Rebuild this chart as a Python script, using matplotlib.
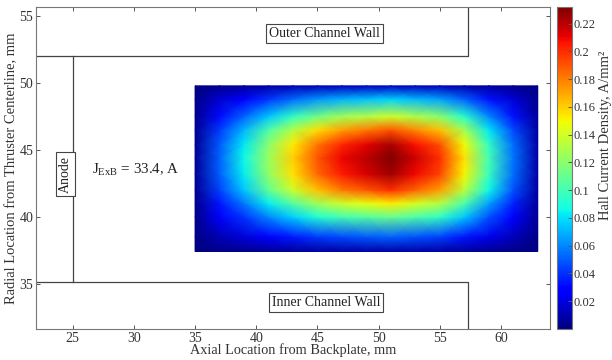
import numpy as np
import matplotlib
matplotlib.use('Agg')
import matplotlib.pyplot as plt

# grid of Hall current density (A/mm^2)
x_mm = [35, 37, 39, 41, 43, 45, 47, 49, 51, 53, 55, 57, 59, 61, 63]
y_mm = [37.4, 38.5, 40.0, 41.0, 42.0, 43.2, 44.4, 45.4, 46.5, 47.5, 48.8, 49.8]
j_hall = [
    [0.000, 0.002, 0.003, 0.005, 0.006, 0.008, 0.008, 0.009, 0.009, 0.009, 0.008, 0.006, 0.004, 0.002, 0.000],
    [0.001, 0.011, 0.019, 0.028, 0.035, 0.042, 0.046, 0.049, 0.051, 0.048, 0.044, 0.034, 0.022, 0.012, 0.002],
    [0.002, 0.025, 0.041, 0.060, 0.077, 0.091, 0.101, 0.106, 0.111, 0.104, 0.096, 0.075, 0.048, 0.027, 0.005],
    [0.003, 0.034, 0.057, 0.083, 0.106, 0.126, 0.139, 0.146, 0.153, 0.142, 0.132, 0.103, 0.066, 0.037, 0.006],
    [0.004, 0.044, 0.074, 0.108, 0.138, 0.164, 0.181, 0.190, 0.200, 0.186, 0.172, 0.134, 0.086, 0.048, 0.008],
    [0.005, 0.050, 0.083, 0.122, 0.155, 0.185, 0.204, 0.214, 0.225, 0.209, 0.194, 0.151, 0.097, 0.054, 0.009],
    [0.005, 0.051, 0.086, 0.125, 0.160, 0.190, 0.210, 0.220, 0.232, 0.216, 0.200, 0.155, 0.100, 0.056, 0.009],
    [0.004, 0.049, 0.082, 0.120, 0.154, 0.183, 0.202, 0.212, 0.223, 0.207, 0.192, 0.149, 0.096, 0.054, 0.009],
    [0.004, 0.042, 0.070, 0.103, 0.131, 0.156, 0.172, 0.181, 0.190, 0.177, 0.164, 0.127, 0.082, 0.046, 0.008],
    [0.003, 0.031, 0.052, 0.075, 0.096, 0.114, 0.126, 0.132, 0.139, 0.130, 0.120, 0.093, 0.060, 0.033, 0.006],
    [0.002, 0.017, 0.028, 0.041, 0.053, 0.063, 0.069, 0.073, 0.077, 0.071, 0.066, 0.051, 0.033, 0.018, 0.003],
    [0.000, 0.003, 0.005, 0.008, 0.010, 0.011, 0.013, 0.013, 0.014, 0.013, 0.012, 0.009, 0.006, 0.003, 0.001],
]

# thruster geometry (mm)
outer_wall_r = 52.0
inner_wall_r = 35.1
wall_exit_z = 57.3
anode_z = 25.0
j_exb = 33.4

plt.rcParams['font.family'] = ['Liberation Serif', 'DejaVu Serif']
plt.rcParams['font.size'] = 10
gray = '#555555'
txt = '#333333'

fig = plt.figure(figsize=(6.12, 3.6), dpi=100)
ax = fig.add_axes([0.0588, 0.0861, 0.8399, 0.8945])
cax = fig.add_axes([0.910, 0.0861, 0.0245, 0.8945])

X, Y = np.meshgrid(x_mm, y_mm)
mesh = ax.pcolormesh(X, Y, np.array(j_hall), cmap='jet', vmin=0.0, vmax=0.232,
                     shading='gouraud', zorder=1)

xmin, xmax = 22, 64
ymin, ymax = 31.6, 55.7
lc = '#444444'
ax.plot([xmin, wall_exit_z, wall_exit_z], [outer_wall_r, outer_wall_r, ymax], color=lc, lw=0.9, zorder=2)
ax.plot([xmin, wall_exit_z, wall_exit_z], [inner_wall_r, inner_wall_r, ymin], color=lc, lw=0.9, zorder=2)
ax.plot([anode_z, anode_z], [inner_wall_r, outer_wall_r], color=lc, lw=0.9, zorder=2)

box = dict(boxstyle='square,pad=0.22', fc='white', ec=lc, lw=0.8)
ax.text(45.6, 53.7, 'Outer Channel Wall', ha='center', va='center', bbox=box, zorder=3, color='#222222')
ax.text(45.7, 33.6, 'Inner Channel Wall', ha='center', va='center', bbox=box, zorder=3, color='#222222')
ax.text(24.4, 43.2, 'Anode', ha='center', va='center', rotation=90, bbox=box, zorder=3, color='#222222')
ax.text(26.6, 43.5, r'J$_{\mathregular{ExB}}$ = ' + f'{j_exb}, A', ha='left', va='center',
        fontsize=10.8, color='#222222')

ax.set_xlim(xmin, xmax)
ax.set_ylim(ymin, ymax)
ax.set_xticks([25, 30, 35, 40, 45, 50, 55, 60])
ax.set_yticks([35, 40, 45, 50, 55])
ax.tick_params(direction='in', top=True, right=True, length=3, width=0.7,
               colors=gray, labelcolor=txt, pad=2)
for s in ax.spines.values():
    s.set_color('#777777')
    s.set_linewidth(0.8)
ax.set_xlabel('Axial Location from Backplate, mm', color=txt, labelpad=-1, fontsize=10.3)
ax.set_ylabel('Radial Location from Thruster Centerline, mm', color=txt, labelpad=1, fontsize=10.5)

cb = fig.colorbar(mesh, cax=cax)
cb.set_ticks([0.02, 0.04, 0.06, 0.08, 0.1, 0.12, 0.14, 0.16, 0.18, 0.2, 0.22])
cb.set_ticklabels(['0.02', '0.04', '0.06', '0.08', '0.1', '0.12', '0.14', '0.16', '0.18', '0.2', '0.22'])
cb.ax.tick_params(direction='in', length=3, width=0.7, colors=gray, labelcolor=txt, pad=1.5,
                  labelsize=9)
cb.outline.set_edgecolor('#777777')
cb.outline.set_linewidth(0.8)
fig.text(609 / 612, 1 - 135 / 360, 'Hall Current Density, A/mm²',
         rotation=90, rotation_mode='anchor', ha='center', va='baseline',
         fontsize=10.5, color=txt)

fig.savefig('out.png', dpi=100)
